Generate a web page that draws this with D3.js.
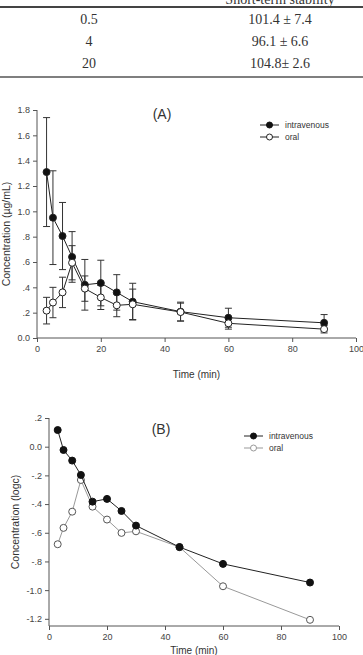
<!DOCTYPE html>
<html>
<head>
  <meta charset='utf-8'>
  <style>
  body { margin: 0; background: #fff; }
  svg { display: block; }
  .tbl { font-family: 'Liberation Serif', 'Times New Roman', serif; font-size: 14px; fill: #333; }
  .axis text { font-family: 'Liberation Sans', Arial, sans-serif; font-size: 9px; fill: #444; }
  .axis path, .axis line { stroke: #555; stroke-width: 1px; }
  .lbl { font-family: 'Liberation Sans', Arial, sans-serif; fill: #333; }
  </style>
</head>
<body>
<script src='https://d3js.org/d3.v7.min.js'></script>
<script>

// table at the top (header is mostly cropped away in the reference)
var tableHeader = 'Short-term stability';
var tableConc = ['0.5', '4', '20'];
var tableStab = ['101.4 \u00b1 7.4', '96.1 \u00b1 6.6', '104.8\u00b1 2.6'];

// sampling times (min)
var times = [3, 5, 8, 11, 15, 20, 25, 30, 45, 60, 90];

// panel A: concentration (ug/mL) mean and SD
var ivMean   = [1.31, 0.95, 0.805, 0.64, 0.42, 0.434, 0.36, 0.287, 0.208, 0.16, 0.12];
var ivSd     = [0.43, 0.37, 0.265, 0.20, 0.20, 0.18, 0.14, 0.145, 0.075, 0.075, 0.065];
var oralMean = [0.216, 0.28, 0.36, 0.594, 0.39, 0.32, 0.258, 0.266, 0.205, 0.116, 0.07];
var oralSd   = [0.105, 0.12, 0.12, 0.135, 0.10, 0.095, 0.09, 0.12, 0.07, 0.046, 0.03];

// panel B: log concentration
var ivLog   = [0.116, -0.023, -0.097, -0.197, -0.383, -0.364, -0.448, -0.55, -0.70, -0.817, -0.947];
var oralLog = [-0.68, -0.566, -0.453, -0.232, -0.418, -0.508, -0.601, -0.59, -0.70, -0.973, -1.207];

var xTicks = [0, 20, 40, 60, 80, 100];
var aTicks = [0, 0.2, 0.4, 0.6, 0.8, 1.0, 1.2, 1.4, 1.6, 1.8];
var aTickLabels = ['0.0', '.2', '.4', '.6', '.8', '1.0', '1.2', '1.4', '1.6', '1.8'];
var bTicks = [-1.2, -1.0, -0.8, -0.6, -0.4, -0.2, 0, 0.2];
var bTickLabels = ['-1.2', '-1.0', '-.8', '-.6', '-.4', '-.2', '0.0', '.2'];

var seriesNames = ['intravenous', 'oral'];

var W = 363, H = 655;
var svg = d3.select('body').append('svg').attr('width', W).attr('height', H);

// ---- table ----
var tbl = svg.append('g');
tbl.append('text').attr('class', 'tbl').attr('x', 280).attr('y', 4)
    .attr('text-anchor', 'middle').text(tableHeader);
tbl.append('line').attr('x1', 0).attr('x2', W).attr('y1', 7).attr('y2', 7)
    .attr('stroke', '#444').attr('stroke-width', 2);
tableConc.forEach(function(c, i) {
  var y = 24 + i * 22;
  tbl.append('text').attr('class', 'tbl').attr('x', 89).attr('y', y)
      .attr('text-anchor', 'middle').text(c);
  tbl.append('text').attr('class', 'tbl').attr('x', 280).attr('y', y)
      .attr('text-anchor', 'middle').text(tableStab[i]);
});
tbl.append('line').attr('x1', 0).attr('x2', W).attr('y1', 77).attr('y2', 77)
    .attr('stroke', '#555').attr('stroke-width', 1.5);

function drawAxes(g, x, y, yTicks, yLabels, title, yLabel, yLabelPos, xLabelY) {
  g.append('g')
      .attr('class', 'axis')
      .attr('transform', 'translate(0,' + y.range()[0] + ')')
      .call(d3.axisBottom(x).tickValues(xTicks).tickSize(4).tickSizeOuter(0).tickPadding(4))
      .call(function(a) { a.select('.domain').attr('d', 'M' + x.range()[0] + ',0H' + x.range()[1]); });

  g.append('g')
      .attr('class', 'axis')
      .attr('transform', 'translate(' + x.range()[0] + ',0)')
      .call(d3.axisLeft(y).tickValues(yTicks).tickSize(4).tickSizeOuter(0).tickPadding(3)
        .tickFormat(function(d, i) { return yLabels[i]; }))
      .call(function(a) { a.select('.domain').attr('d', 'M0,' + y.range()[0] + 'V' + y.range()[1]); });

  g.append('text').attr('class', 'lbl')
      .attr('x', (x.range()[0] + x.range()[1]) / 2).attr('y', xLabelY)
      .attr('text-anchor', 'middle').style('font-size', '10px').text('Time (min)');

  g.append('text').attr('class', 'lbl')
      .attr('transform', 'translate(' + yLabelPos[0] + ',' + yLabelPos[1] + ') rotate(-90)')
      .attr('text-anchor', 'middle').style('font-size', '10.5px').text(yLabel);

  g.append('text').attr('class', 'lbl')
      .attr('x', title[1]).attr('y', title[2])
      .attr('text-anchor', 'middle').style('font-size', '14px').text(title[0]);
}

function drawLegend(g, x0, y0, strokes) {
  seriesNames.forEach(function(n, i) {
    var yy = y0 + i * 12;
    g.append('line').attr('x1', x0).attr('x2', x0 + 19).attr('y1', yy).attr('y2', yy)
        .attr('stroke', strokes[i]).attr('stroke-width', 1);
    g.append('circle').attr('cx', x0 + 9.5).attr('cy', yy).attr('r', 3)
        .attr('fill', i === 0 ? '#111' : '#fff').attr('stroke', i === 0 ? '#111' : strokes[i]);
    g.append('text').attr('class', 'lbl').attr('x', x0 + 25).attr('y', yy + 3)
        .style('font-size', '8.5px').text(n);
  });
}

// ---- panel A ----
var gA = svg.append('g');
var xA = d3.scaleLinear().domain([0, 100]).range([37, 356]);
var yA = d3.scaleLinear().domain([0, 1.8]).range([338, 110]);

drawAxes(gA, xA, yA, aTicks, aTickLabels, ['(A)', 162, 119],
    'Concentration (\u00b5g/mL)', [10, 234], 378);

var lineA = d3.line().x(function(d) { return xA(d[0]); }).y(function(d) { return yA(d[1]); });

[[ivMean, ivSd], [oralMean, oralSd]].forEach(function(s) {
  var pts = times.map(function(t, i) { return [t, s[0][i], s[1][i]]; });
  var eb = gA.append('g').attr('stroke', '#333').attr('stroke-width', 1);
  pts.forEach(function(p) {
    var x = xA(p[0]), y1 = yA(p[1] + p[2]), y2 = yA(p[1] - p[2]);
    eb.append('line').attr('x1', x).attr('x2', x).attr('y1', y1).attr('y2', y2);
    eb.append('line').attr('x1', x - 3.5).attr('x2', x + 3.5).attr('y1', y1).attr('y2', y1);
    eb.append('line').attr('x1', x - 3.5).attr('x2', x + 3.5).attr('y1', y2).attr('y2', y2);
  });
});

[[ivMean, '#111'], [oralMean, '#fff']].forEach(function(s) {
  var pts = times.map(function(t, i) { return [t, s[0][i]]; });
  gA.append('path').datum(pts).attr('d', lineA)
      .attr('fill', 'none').attr('stroke', '#222').attr('stroke-width', 1);
  gA.selectAll(null).data(pts).enter().append('circle')
      .attr('cx', function(d) { return xA(d[0]); })
      .attr('cy', function(d) { return yA(d[1]); })
      .attr('r', 3.5).attr('fill', s[1]).attr('stroke', '#222');
});

drawLegend(gA, 260, 125, ['#222', '#222']);

// ---- panel B ----
var gB = svg.append('g');
var xB = d3.scaleLinear().domain([0, 100]).range([49, 339]);
var yB = d3.scaleLinear().domain([-1.25, 0.2]).range([626, 418]);

drawAxes(gB, xB, yB, bTicks, bTickLabels, ['(B)', 161, 434],
    'Concentration (logc)', [19, 522], 654);

var lineB = d3.line().x(function(d) { return xB(d[0]); }).y(function(d) { return yB(d[1]); });

[[oralLog, '#fff', '#999'], [ivLog, '#111', '#222']].forEach(function(s) {
  var pts = times.map(function(t, i) { return [t, s[0][i]]; });
  gB.append('path').datum(pts).attr('d', lineB)
      .attr('fill', 'none').attr('stroke', s[2]).attr('stroke-width', 1);
  gB.selectAll(null).data(pts).enter().append('circle')
      .attr('cx', function(d) { return xB(d[0]); })
      .attr('cy', function(d) { return yB(d[1]); })
      .attr('r', 3.5).attr('fill', s[1]).attr('stroke', s[1] === '#fff' ? '#555' : '#111');
});

drawLegend(gB, 244, 436, ['#222', '#999']);

</script>
</body>
</html>
